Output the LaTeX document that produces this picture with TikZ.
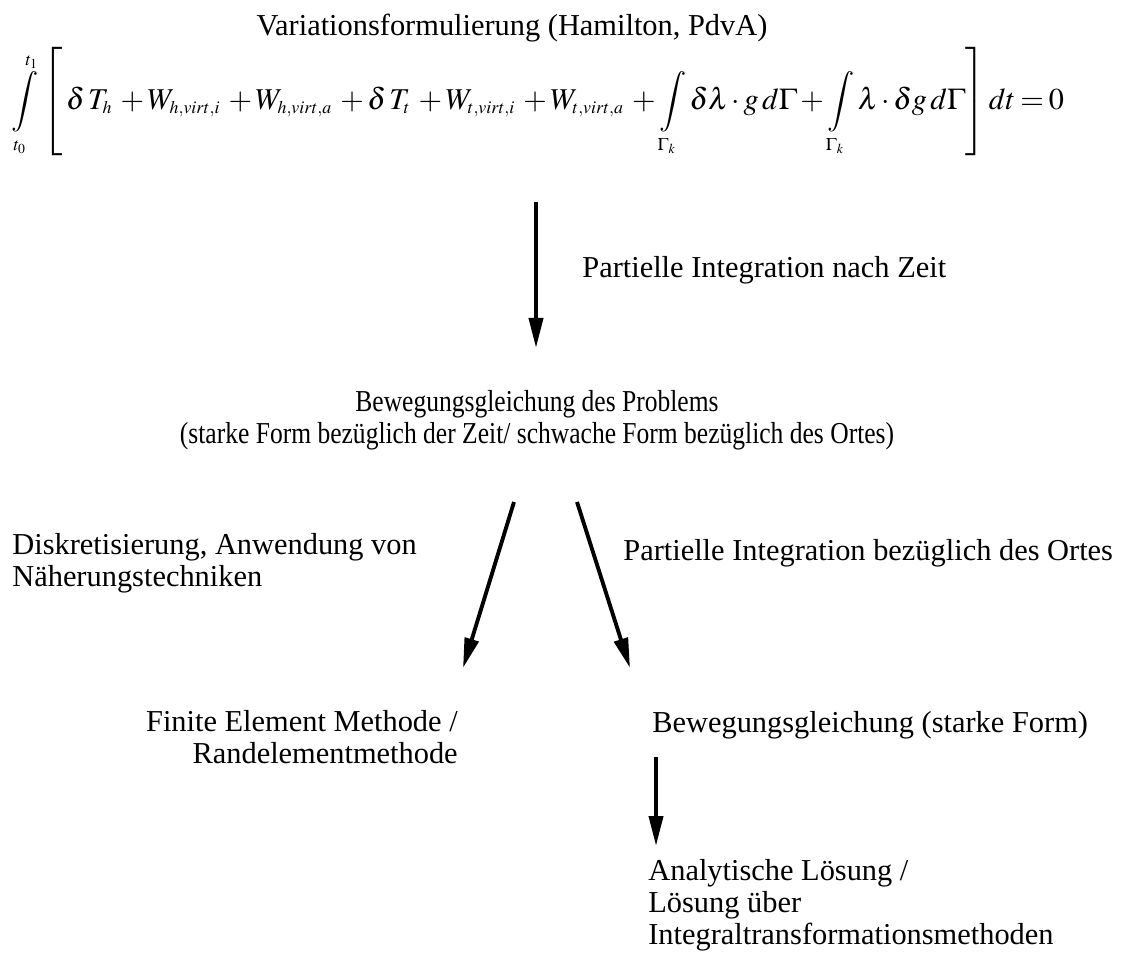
\documentclass[tikz,border=0pt]{standalone}
\usepackage{mathptmx}
\usepackage{fontspec}
\setmainfont{Liberation Serif}
\newfontfamily\schmal[FakeStretch=0.84]{Liberation Serif}
\DeclareMathSizes{22}{22}{13}{10}
\usetikzlibrary{arrows.meta}

\begin{document}
\begin{tikzpicture}
    % Styles
    \tikzset{
        txt/.style={inner sep=0pt, font=\fontsize{17.3}{18.2}\selectfont},
        pfeil/.style={-{Triangle[width=0.28cm, length=0.6cm]}, line width=2.2pt}
    }
    \useasboundingbox (0,0) rectangle (22.44,19.22);

    % Nodes
    \node[txt] (title) at (10.24, 18.66) {Variationsformulierung (Hamilton, PdvA)};
    \node[inner sep=0pt, font=\fontsize{22}{26}\selectfont] (form) at (10.76, 17.18) {%
        \resizebox{21.04cm}{!}{$\medmuskip=2mu \thickmuskip=3mu \displaystyle
        \int\limits_{t_0}^{t_1}\left[\rule[-1.1cm]{0pt}{2.45cm}\,
        \delta\, T_h \;+ W_{h,virt,i} \;+ W_{h,virt,a} \;+\delta\, T_t \;+ W_{t,virt,i} \;+ W_{t,virt,a}
        \;+ \int\limits_{\Gamma_k}\delta\lambda\cdot g\,d\Gamma
        + \int\limits_{\Gamma_k}\lambda\cdot\delta g\,d\Gamma\right] dt = 0$}};
    \node[txt, anchor=west] (zeit) at (11.64, 13.82) {Partielle Integration nach Zeit};
    \node[txt, align=center, font=\fontsize{17.3}{18.2}\schmal] (bew) at (10.74, 10.82) {Bewegungsgleichung des Problems\\(starke Form bezüglich der Zeit/ schwache Form bezüglich des Ortes)};
    \node[txt, anchor=west, align=left] (diskr) at (0.24, 7.96) {Diskretisierung, Anwendung von\\Näherungstechniken};
    \node[txt, anchor=west] (ort) at (12.46, 8.16) {Partielle Integration bezüglich des Ortes};
    \node[txt, anchor=east, align=right] (fem) at (9.16, 4.48) {Finite Element Methode /\\Randelementmethode};
    \node[txt, anchor=west] (stark) at (13.04, 4.72) {Bewegungsgleichung (starke Form)};
    \node[txt, anchor=west, align=left] (anal) at (12.96, 1.12) {Analytische Lösung /\\Lösung über\\Integraltransformationsmethoden};

    % Arrow ends
    \coordinate (a1) at (10.72, 15.18);
    \coordinate (b1) at (10.72, 12.26);
    \coordinate (a2) at (10.28, 9.18);
    \coordinate (b2) at (9.26, 5.86);
    \coordinate (a3) at (11.54, 9.18);
    \coordinate (b3) at (12.60, 5.86);
    \coordinate (a4) at (13.12, 4.08);
    \coordinate (b4) at (13.12, 2.30);

    % Flow arrows
    \draw[pfeil] (a1) -- (b1);
    \draw[pfeil] (a2) -- (b2);
    \draw[pfeil] (a3) -- (b3);
    \draw[pfeil] (a4) -- (b4);
\end{tikzpicture}
\end{document}
